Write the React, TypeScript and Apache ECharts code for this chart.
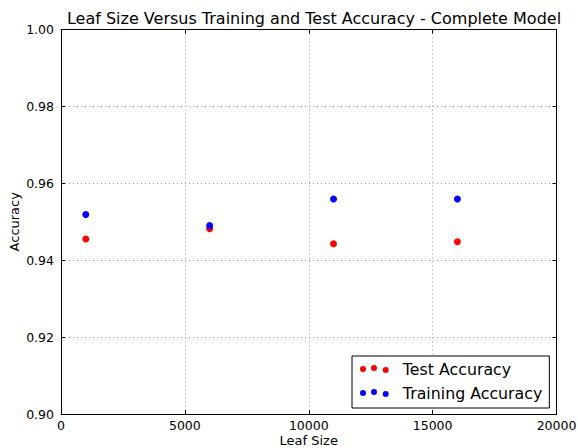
import React, { useEffect, useRef } from "react";
import * as echarts from "echarts";

const leafSizes = [1000, 6000, 11000, 16000];
const testAccuracy = [0.9455, 0.9482, 0.9443, 0.9448];
const trainingAccuracy = [0.9519, 0.949, 0.9559, 0.9559];
const seriesNames = ["Test Accuracy", "Training Accuracy"];
const seriesColors = ["#ff0000", "#0000ff"];
const titleText = "Leaf Size Versus Training and Test Accuracy - Complete Model";

const FONT = "DejaVu Sans";
const threeDots =
  "path://M0,4a3,3 0 1,0 6,0a3,3 0 1,0 -6,0M11,3a3,3 0 1,0 6,0a3,3 0 1,0 -6,0M22.7,5a3,3 0 1,0 6,0a3,3 0 1,0 -6,0";

export default function App() {
  const ref = useRef<HTMLDivElement>(null);
  useEffect(() => {
    if (!ref.current) return;
    const chart = echarts.init(ref.current, null, { renderer: "svg" });
    const pairs = (ys: number[]) => leafSizes.map((x, i) => [x, ys[i]]);
    const gridLine = { show: true, lineStyle: { color: "#9a9a9a", type: [1, 3] as any, width: 1 } };
    const spine = { show: true, onZero: false, lineStyle: { color: "#000", width: 1 } };
    const tick = { show: true, inside: true, length: 4, lineStyle: { color: "#000" } };
    chart.setOption({
      animation: false,
      backgroundColor: "#fff",
      textStyle: { fontFamily: FONT },
      title: {
        text: titleText,
        left: 309,
        textAlign: "center",
        top: 5,
        textStyle: { fontFamily: FONT, fontSize: 16, fontWeight: "normal", color: "#000" },
      },
      grid: {
        left: 61,
        right: 21.5,
        top: 29.5,
        bottom: 34,
        containLabel: false,
        outerBoundsMode: "none",
      } as any,
      legend: {
        orient: "vertical",
        left: 352,
        top: 356,
        padding: [5, 7, 7, 8],
        itemGap: 8,
        itemWidth: 29,
        itemHeight: 8,
        borderColor: "#000",
        borderWidth: 1,
        borderRadius: 0,
        backgroundColor: "#fff",
        icon: threeDots,
        data: seriesNames,
        formatter: "{a|{name}}",
        textStyle: {
          fontFamily: FONT,
          fontSize: 15.8,
          color: "#000",
          rich: { a: { fontFamily: FONT, fontSize: 15.8, lineHeight: 15, padding: [0, 0, 0, 9], color: "#000" } },
        },
      },
      xAxis: [
        {
          type: "value",
          min: 0,
          max: 20000,
          interval: 5000,
          name: "Leaf Size",
          nameLocation: "middle",
          nameGap: 20,
          nameMoveOverlap: false,
          nameTextStyle: { fontFamily: FONT, fontSize: 13, color: "#000" },
          axisLine: spine,
          axisTick: tick,
          axisLabel: {
            fontFamily: FONT,
            fontSize: 12.5,
            color: "#000",
            margin: 5,
            formatter: (v: number) => String(v),
          },
          splitLine: gridLine,
        },
        {
          type: "value",
          position: "top",
          min: 0,
          max: 20000,
          interval: 5000,
          axisLine: spine,
          axisTick: tick,
          axisLabel: { show: false },
          splitLine: { show: false },
        },
      ],
      yAxis: [
        {
          type: "value",
          min: 0.9,
          max: 1.0,
          interval: 0.02,
          name: "Accuracy",
          nameLocation: "middle",
          nameGap: 40,
          nameMoveOverlap: false,
          nameTextStyle: { fontFamily: FONT, fontSize: 13, color: "#000" },
          axisLine: spine,
          axisTick: tick,
          axisLabel: {
            fontFamily: FONT,
            fontSize: 12.5,
            color: "#000",
            margin: 7,
            formatter: (v: number) => v.toFixed(2),
          },
          splitLine: gridLine,
        },
        {
          type: "value",
          position: "right",
          min: 0.9,
          max: 1.0,
          interval: 0.02,
          axisLine: spine,
          axisTick: tick,
          axisLabel: { show: false },
          splitLine: { show: false },
        },
      ],
      series: [
        {
          name: seriesNames[0],
          type: "scatter",
          data: pairs(testAccuracy),
          symbol: "circle",
          symbolSize: 7,
          itemStyle: { color: seriesColors[0], opacity: 1 },
        },
        {
          name: seriesNames[1],
          type: "scatter",
          data: pairs(trainingAccuracy),
          symbol: "circle",
          symbolSize: 7,
          itemStyle: { color: seriesColors[1], opacity: 1 },
        },
      ],
    });
    return () => chart.dispose();
  }, []);
  return <div ref={ref} style={{ position: "fixed", left: 0, top: 0, width: 578, height: 448 }} />;
}
